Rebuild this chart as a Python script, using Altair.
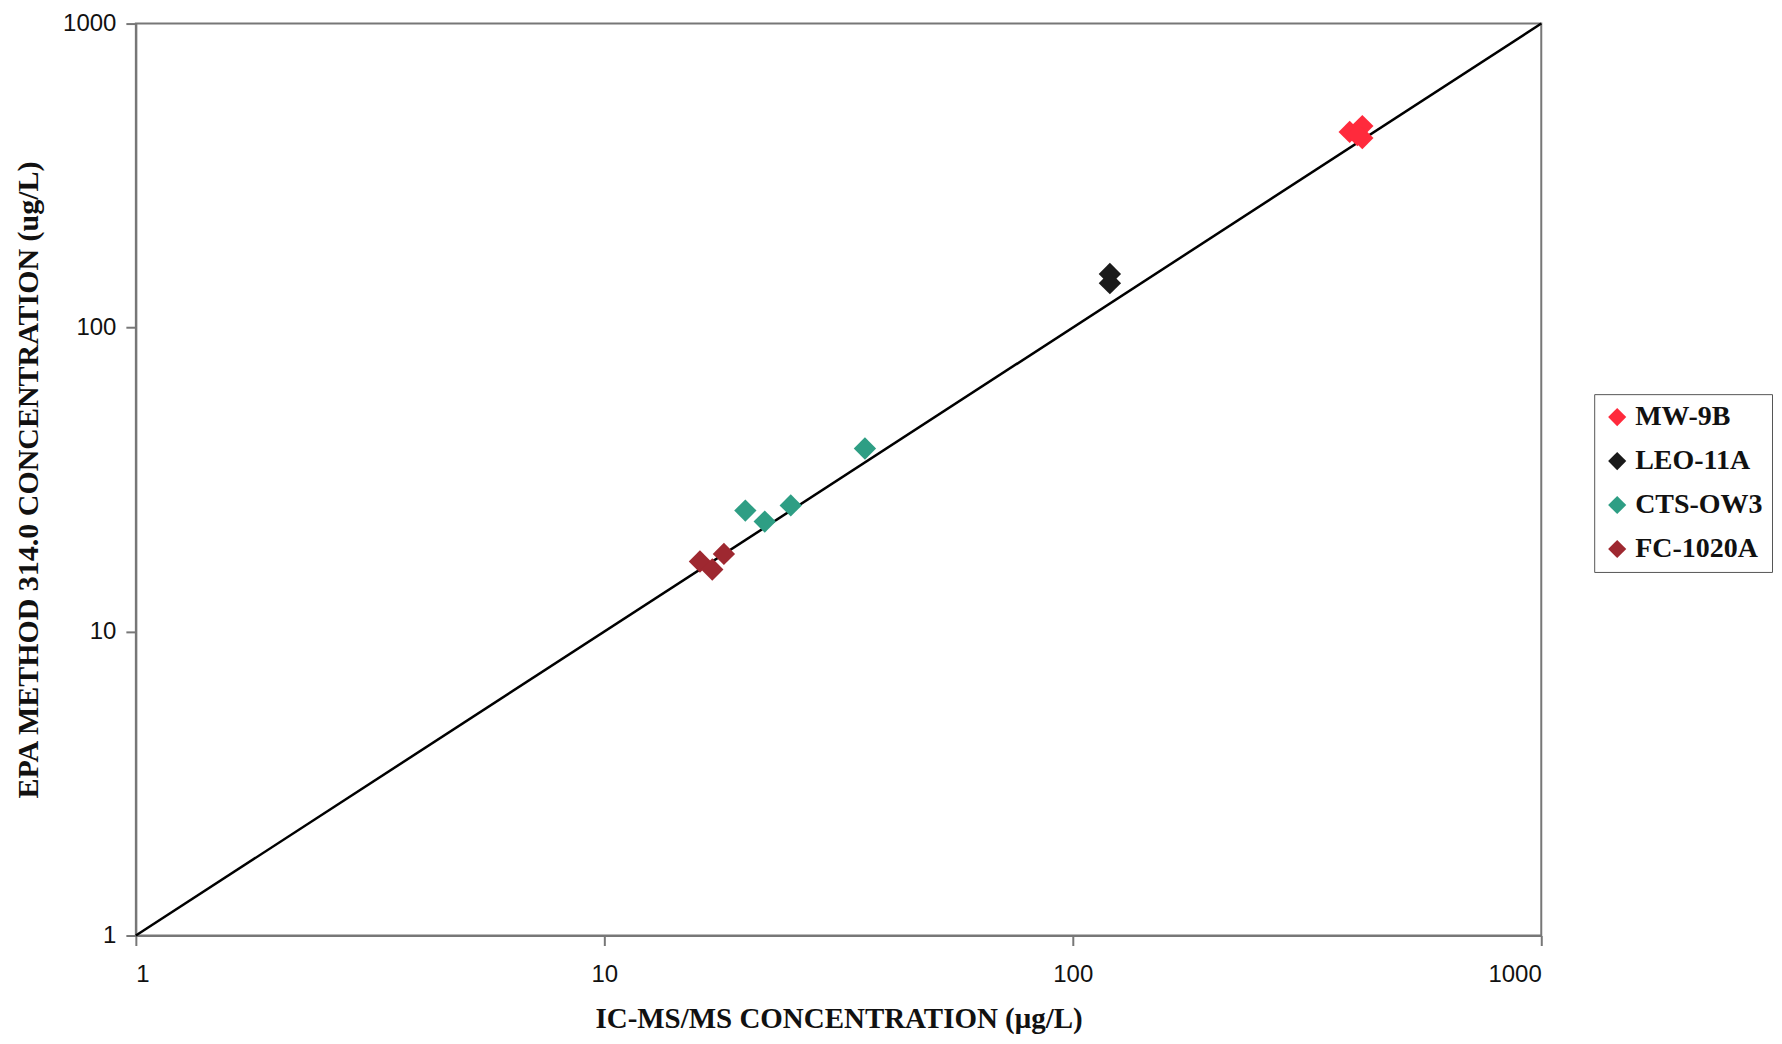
import altair as alt
import pandas as pd

# Data
series = ["MW-9B", "MW-9B", "MW-9B", "MW-9B",
          "LEO-11A", "LEO-11A",
          "CTS-OW3", "CTS-OW3", "CTS-OW3", "CTS-OW3",
          "FC-1020A", "FC-1020A", "FC-1020A"]
icms = [390, 415, 415, 405,
        120, 120,
        36, 20, 22, 25,
        16, 17, 18]
epa = [440, 460, 420, 430,
       150, 140,
       40, 25, 23, 26,
       17, 16, 18]

order = ["MW-9B", "LEO-11A", "CTS-OW3", "FC-1020A"]
colors = ["#FF2A3C", "#1A1A1A", "#2E9E84", "#9E2830"]

line_x = [1, 1000]
line_y = [1, 1000]

df = pd.DataFrame({"series": series, "x": icms, "y": epa})
dline = pd.DataFrame({"x": line_x, "y": line_y})

xscale = alt.Scale(type="log", domain=[1, 1000], nice=False)
yscale = alt.Scale(type="log", domain=[1, 1000], nice=False)

xaxis = alt.Axis(title="IC-MS/MS CONCENTRATION (μg/L)", values=[1, 10, 100, 1000],
                 format="d", grid=False, tickSize=10, labelPadding=17,
                 titlePadding=18)
yaxis = alt.Axis(title="EPA METHOD 314.0 CONCENTRATION (ug/L)", values=[1, 10, 100, 1000],
                 format="d", grid=False, tickSize=10, labelPadding=10,
                 titlePadding=19, titleFontSize=30)

line = alt.Chart(dline).mark_line(color="black", strokeWidth=2.5).encode(
    x=alt.X("x:Q", scale=xscale, axis=xaxis),
    y=alt.Y("y:Q", scale=yscale, axis=yaxis),
)

pts = alt.Chart(df).mark_point(shape="diamond", filled=True, size=500, opacity=1).encode(
    x=alt.X("x:Q", scale=xscale),
    y=alt.Y("y:Q", scale=yscale),
    color=alt.Color("series:N", scale=alt.Scale(domain=order, range=colors),
                    legend=alt.Legend(title=None, orient="none", legendX=1460, legendY=371,
                                      symbolType="diamond", symbolSize=330,
                                      labelFont="Liberation Serif", labelFontWeight="bold",
                                      labelFontSize=28, labelColor="#111",
                                      labelOffset=4, labelLimit=300,
                                      rowPadding=16, padding=9,
                                      strokeColor="#555", fillColor="white")),
)

chart = alt.layer(line, pts).properties(
    width=1407, height=913,
    autosize=alt.AutoSizeParams(type="none"),
    padding={"left": 128, "top": 15, "right": 233, "bottom": 100},
).configure_view(
    stroke="#777", strokeWidth=2
).configure_axis(
    domainColor="#777", domainWidth=2, tickColor="#777", tickWidth=2,
    labelFont="Liberation Sans", labelFontSize=24, labelColor="#111",
    titleFont="Liberation Serif", titleFontWeight="bold", titleFontSize=29,
    titleColor="#111",
)

chart.save("out.html", embed_options={"renderer": "svg", "actions": False})
